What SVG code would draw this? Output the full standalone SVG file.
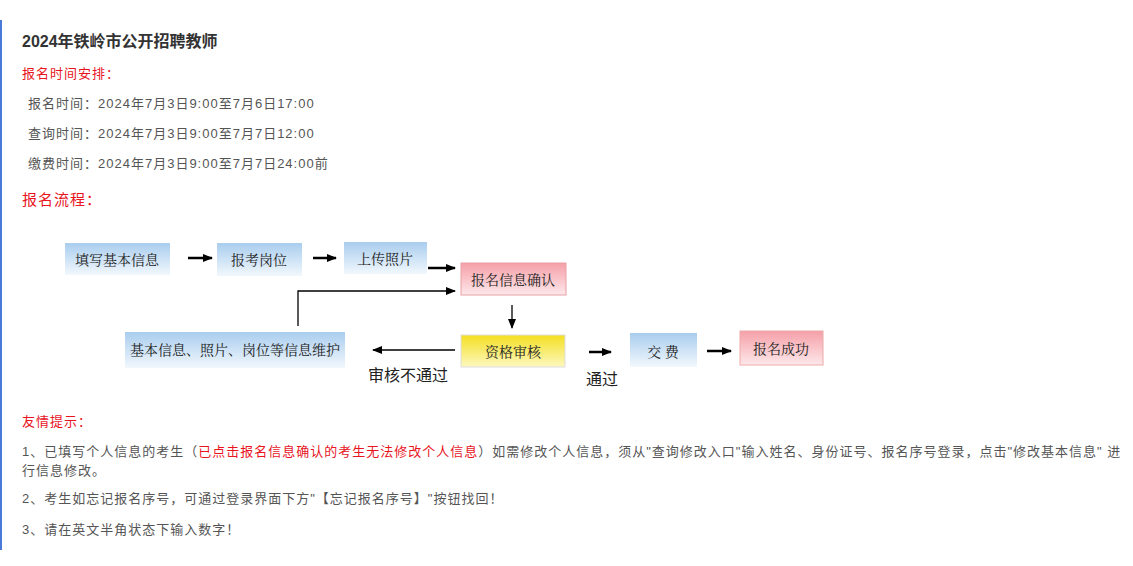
<svg xmlns="http://www.w3.org/2000/svg" width="1133" height="566" viewBox="0 0 1133 566">
<style>
.t{font-family:"Liberation Sans","Noto Sans CJK SC",sans-serif;font-size:13px;fill:#555;letter-spacing:1px}
.r{fill:#e8141e}
.n{font-family:"Noto Serif CJK SC","Noto Sans CJK SC",serif;font-size:14px;fill:#222;text-anchor:middle}
.lb{font-family:"Noto Sans CJK SC",sans-serif;font-size:16px;fill:#222;text-anchor:middle}
.c{stroke:#000;stroke-width:1.3;fill:none}
.h{stroke:#000;stroke-width:2.5;fill:none}
</style>
<defs>
<linearGradient id="gb" x1="0" y1="0" x2="0" y2="1"><stop offset="0" stop-color="#a9cdee"/><stop offset="1" stop-color="#f2f8fd"/></linearGradient>
<linearGradient id="gp" x1="0" y1="0" x2="0" y2="1"><stop offset="0" stop-color="#f5a0a8"/><stop offset="1" stop-color="#fde8ea"/></linearGradient>
<linearGradient id="gy" x1="0" y1="0" x2="0" y2="1"><stop offset="0" stop-color="#f4df20"/><stop offset="1" stop-color="#fdf8c0"/></linearGradient>
<marker id="a" markerWidth="10" markerHeight="8" refX="9" refY="4" orient="auto" markerUnits="userSpaceOnUse"><path d="M0,0L10,4L0,8z" fill="#000"/></marker>
</defs>
<rect width="1133" height="566" fill="#fff"/>
<rect x="0" y="20" width="2" height="530" fill="#4a7ad8"/>
<text x="22" y="47" style="font-family:'Liberation Sans','Noto Sans CJK SC',sans-serif;font-size:16px;font-weight:bold;fill:#333">2024年铁岭市公开招聘教师</text>
<text x="22" y="78" class="t r">报名时间安排：</text>
<text x="28" y="108" class="t">报名时间：2024年7月3日9:00至7月6日17:00</text>
<text x="28" y="138" class="t">查询时间：2024年7月3日9:00至7月7日12:00</text>
<text x="28" y="168" class="t">缴费时间：2024年7月3日9:00至7月7日24:00前</text>
<text x="22" y="205" class="t r" style="font-size:15px">报名流程：</text>
<g id="n1"><rect x="65" y="243" width="105" height="32" fill="url(#gb)"/><text x="117" y="265" class="n">填写基本信息</text></g>
<g id="n2"><rect x="217" y="243" width="85" height="33" fill="url(#gb)"/><text x="259" y="265" class="n">报考岗位</text></g>
<g id="n3"><rect x="344" y="242" width="83" height="32" fill="url(#gb)"/><text x="385" y="264" class="n">上传照片</text></g>
<g id="n4"><rect x="461" y="263" width="105" height="32" fill="url(#gp)" stroke="#e9a0a6"/><text x="513" y="285" class="n">报名信息确认</text></g>
<g id="n5"><rect x="125" y="332" width="220" height="36" fill="url(#gb)"/><text x="235" y="355" class="n">基本信息、照片、岗位等信息维护</text></g>
<g id="n6"><rect x="461" y="335" width="104" height="32" fill="url(#gy)" stroke="#ddd"/><text x="513" y="357" class="n">资格审核</text></g>
<g id="n7"><rect x="630" y="333" width="67" height="34" fill="url(#gb)"/><text x="663" y="357" class="n">交 费</text></g>
<g id="n8"><rect x="740" y="331" width="83" height="34" fill="url(#gp)" stroke="#eaa"/><text x="781" y="354" class="n">报名成功</text></g>
<g id="connectors">
<path d="M188,258H212" class="h" marker-end="url(#a)"/>
<path d="M313,258H336" class="h" marker-end="url(#a)"/>
<path d="M428,268H455" class="h" marker-end="url(#a)"/>
<path d="M298,326V291H455" class="c" marker-end="url(#a)"/>
<path d="M512,305V328" class="c" marker-end="url(#a)"/>
<path d="M455,350H373" class="c" marker-end="url(#a)"/>
<path d="M589,352H611" class="h" marker-end="url(#a)"/>
<path d="M707,351H731" class="h" marker-end="url(#a)"/>
<text x="408" y="381" class="lb">审核不通过</text>
<text x="602" y="385" class="lb">通过</text>
</g>
<text x="22" y="426" class="t r">友情提示：</text>
<text x="22" y="456" class="t">1、已填写个人信息的考生（<tspan class="r">已点击报名信息确认的考生无法修改个人信息</tspan>）如需修改个人信息，须从"查询修改入口"输入姓名、身份证号、报名序号登录，点击"修改基本信息" 进</text>
<text x="22" y="475" class="t">行信息修改。</text>
<text x="22" y="503" class="t">2、考生如忘记报名序号，可通过登录界面下方"【忘记报名序号】"按钮找回！</text>
<text x="22" y="534" class="t">3、请在英文半角状态下输入数字！</text>
</svg>
